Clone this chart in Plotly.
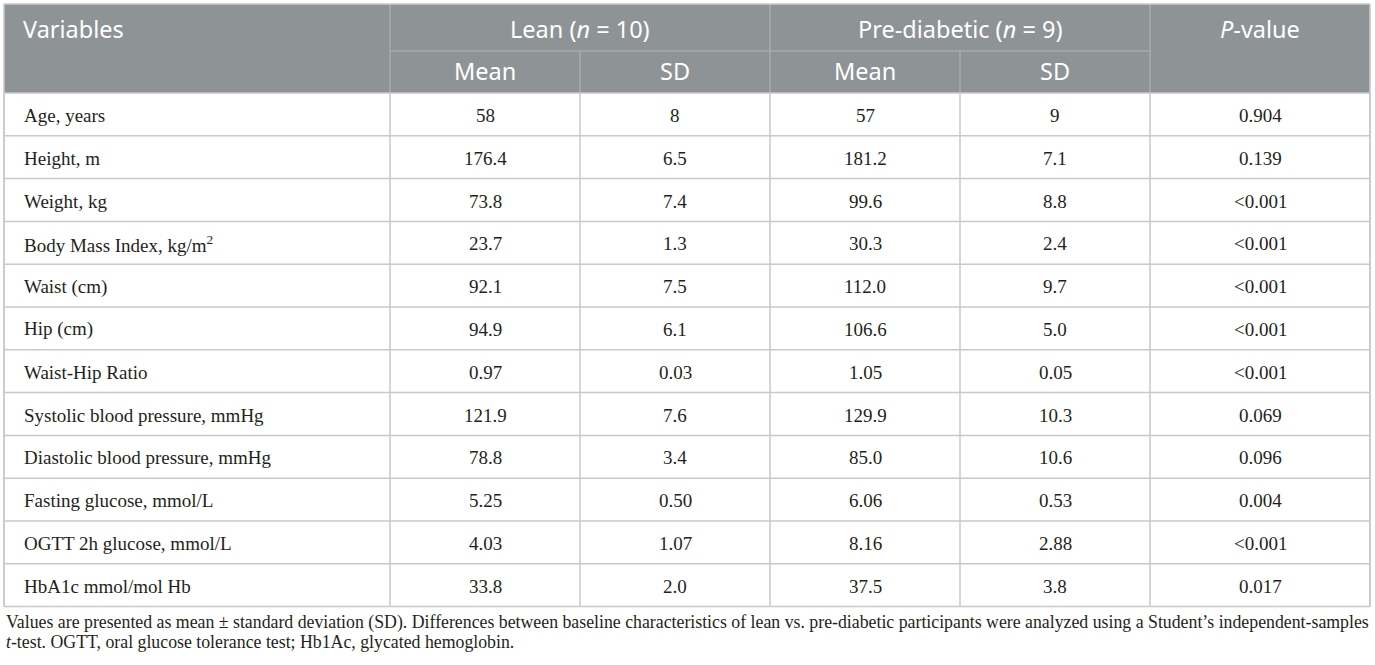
import plotly.graph_objects as go

# table content
variables = [
    "Age, years", "Height, m", "Weight, kg", "Body Mass Index, kg/m<sup>2</sup>",
    "Waist (cm)", "Hip (cm)", "Waist-Hip Ratio", "Systolic blood pressure, mmHg",
    "Diastolic blood pressure, mmHg", "Fasting glucose, mmol/L",
    "OGTT 2h glucose, mmol/L", "HbA1c mmol/mol Hb",
]
lean_mean = ["58", "176.4", "73.8", "23.7", "92.1", "94.9", "0.97", "121.9", "78.8", "5.25", "4.03", "33.8"]
lean_sd = ["8", "6.5", "7.4", "1.3", "7.5", "6.1", "0.03", "7.6", "3.4", "0.50", "1.07", "2.0"]
pre_mean = ["57", "181.2", "99.6", "30.3", "112.0", "106.6", "1.05", "129.9", "85.0", "6.06", "8.16", "37.5"]
pre_sd = ["9", "7.1", "8.8", "2.4", "9.7", "5.0", "0.05", "10.3", "10.6", "0.53", "2.88", "3.8"]
p_values = ["0.904", "0.139", "&lt;0.001", "&lt;0.001", "&lt;0.001", "&lt;0.001", "&lt;0.001",
            "0.069", "0.096", "0.004", "&lt;0.001", "0.017"]
group_labels = ["Lean (<i>n</i> = 10)", "Pre-diabetic (<i>n</i> = 9)"]
sub_labels = ["Mean", "SD", "Mean", "SD"]
footnote = [
    "Values are presented as mean ± standard deviation (SD). Differences between baseline "
    "characteristics of lean vs. pre-diabetic participants were analyzed using a Student’s "
    "independent-samples",
    "<i>t</i>-test. OGTT, oral glucose tolerance test; Hb1Ac, glycated hemoglobin.",
]

# layout in pixels (axes map 1:1 onto the page)
W, H = 1375, 665
col_w = [386, 190, 190, 190, 190, 220]
x0, y0 = 4, 4
head_h = [47, 42]
row_h = 42.8
HEAD = "#8e9395"
HEAD_LINE = "#a7abad"
GRID = "#c8c8c8"
INK = "#231f20"
SANS = "Noto Sans, Open Sans, sans-serif"
SERIF = "Liberation Serif, Times New Roman, serif"

edges = [x0]
for w in col_w:
    edges.append(edges[-1] + w)
centers = [(edges[i] + edges[i + 1]) / 2 for i in range(len(col_w))]
head_bot = y0 + sum(head_h)
n = len(variables)
bottom = head_bot + n * row_h

shapes, ann = [], []

def line(xa, ya, xb, yb, color, w=1.5):
    shapes.append(dict(type="line", x0=xa, y0=ya, x1=xb, y1=yb,
                       line=dict(color=color, width=w), layer="above"))

# header background
shapes.append(dict(type="rect", x0=edges[0], x1=edges[-1], y0=y0, y1=head_bot,
                   fillcolor=HEAD, line=dict(width=0), layer="below"))
# header grid
mid = y0 + head_h[0]
line(edges[1], mid, edges[5], mid, HEAD_LINE)
for i in (1, 3, 5):
    line(edges[i], y0, edges[i], head_bot, HEAD_LINE)
for i in (2, 4):
    line(edges[i], mid, edges[i], head_bot, HEAD_LINE)

# body grid
for r in range(n + 1):
    yy = head_bot + r * row_h
    line(edges[0], yy, edges[-1], yy, GRID)
for i in range(len(edges)):
    line(edges[i], head_bot, edges[i], bottom, GRID)
# outer frame
line(edges[0], y0, edges[-1], y0, GRID)
line(edges[0], y0, edges[0], bottom, GRID)
line(edges[-1], y0, edges[-1], bottom, GRID)

def text(x, y, s, font, size, color, anchor="center"):
    ann.append(dict(x=x, y=y, text=s, showarrow=False, xanchor=anchor, yanchor="middle",
                    font=dict(family=font, size=size, color=color)))

# header text
hy1 = 29
hy2 = 71
text(edges[0] + 17, hy1, "Variables", SANS, 23.5, "white", "left")
text((edges[1] + edges[3]) / 2, hy1, group_labels[0], SANS, 23.5, "white")
text((edges[3] + edges[5]) / 2, hy1, group_labels[1], SANS, 23.5, "white")
text(centers[5], hy1, "<i>P</i>-value", SANS, 23.5, "white")
for k, s in enumerate(sub_labels):
    text(centers[k + 1], hy2, s, SANS, 23.5, "white")

# body text
cols = [lean_mean, lean_sd, pre_mean, pre_sd, p_values]
for r in range(n):
    yy = head_bot + (r + 0.5) * row_h + 1
    text(edges[0] + 18, yy, variables[r], SERIF, 19, INK, "left")
    for c, vals in enumerate(cols):
        text(centers[c + 1], yy, vals[r], SERIF, 19, INK)

# footnote, two lines
for k, s in enumerate(footnote):
    text(edges[0], 622 + 20 * k, s, SERIF, 17.8, INK, "left")

fig = go.Figure()
fig.update_layout(
    width=W, height=H, margin=dict(l=0, r=0, t=0, b=0),
    paper_bgcolor="white", plot_bgcolor="white",
    xaxis=dict(range=[0, W], visible=False, fixedrange=True),
    yaxis=dict(range=[H, 0], visible=False, fixedrange=True),
    shapes=shapes, annotations=ann, showlegend=False,
)
fig.write_html("out.html", config={"displayModeBar": False},
               post_script="document.body.style.margin='0';document.body.style.overflow='hidden';")
